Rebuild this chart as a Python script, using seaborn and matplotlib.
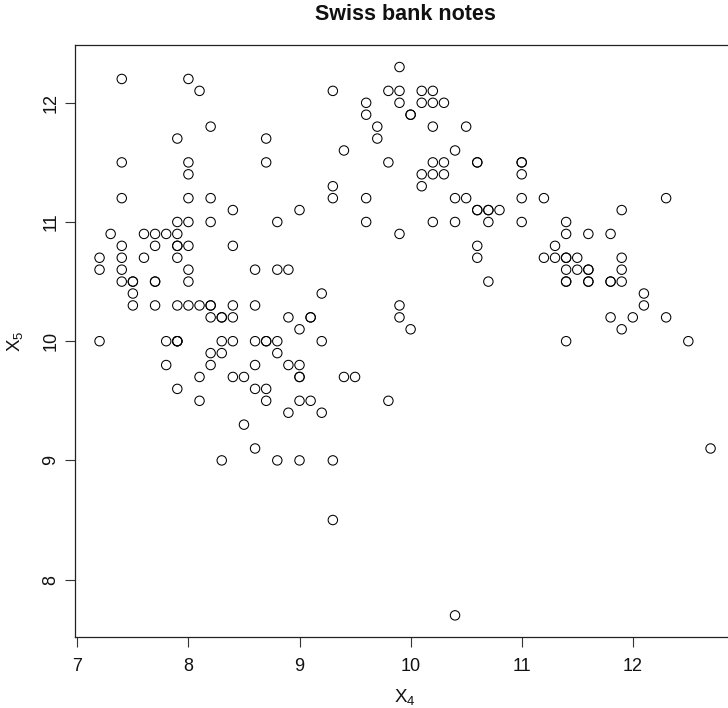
import matplotlib
matplotlib.use("Agg")
import matplotlib.pyplot as plt
import pandas as pd
import seaborn as sns

# Swiss bank notes: bottom margin width (X4) and top margin width (X5), mm
bottom_genuine = [
    9.0, 8.1, 8.7, 7.5, 10.4, 9.0, 7.9, 7.2, 8.2, 9.2,
    7.9, 7.7, 7.9, 7.7, 7.7, 9.3, 8.2, 9.0, 7.4, 8.6,
    8.4, 8.1, 8.4, 8.7, 7.4, 8.0, 8.9, 9.8, 7.4, 8.3,
    7.9, 8.6, 7.7, 8.4, 8.9, 9.4, 8.4, 7.9, 8.5, 8.1,
    8.9, 8.8, 9.3, 9.0, 8.2, 8.3, 8.3, 7.3, 7.9, 7.8,
    7.2, 9.5, 7.8, 7.6, 7.9, 9.2, 9.2, 8.8, 7.9, 8.2,
    8.3, 7.5, 8.0, 8.0, 8.6, 8.8, 7.7, 9.1, 8.6, 8.0,
    8.4, 8.2, 8.7, 7.5, 7.2, 7.6, 8.8, 7.4, 7.9, 7.9,
    8.6, 7.5, 9.0, 7.9, 9.0, 8.9, 8.7, 8.4, 7.4, 8.0,
    8.6, 8.5, 8.2, 7.4, 8.3, 9.0, 9.1, 8.0, 9.1, 7.8,
]
top_genuine = [
    9.7, 9.5, 9.6, 10.4, 7.7, 10.1, 9.6, 10.7, 11.0, 10.0,
    11.7, 10.5, 10.8, 10.9, 10.8, 8.5, 9.8, 9.0, 11.5, 10.0,
    10.0, 10.3, 10.8, 10.0, 10.8, 11.0, 9.8, 9.5, 10.5, 9.0,
    10.7, 9.1, 10.5, 10.3, 10.6, 9.7, 9.7, 10.0, 9.3, 9.7,
    9.4, 9.9, 9.0, 9.8, 10.2, 10.2, 10.2, 10.9, 10.3, 9.8,
    10.0, 9.7, 10.9, 10.9, 10.0, 9.4, 10.4, 9.0, 11.0, 10.3,
    9.9, 10.5, 10.6, 10.8, 10.6, 10.6, 10.3, 9.5, 9.8, 11.2,
    11.1, 10.3, 10.0, 10.5, 10.6, 10.7, 10.0, 10.6, 10.9, 10.0,
    10.3, 10.3, 9.7, 10.8, 11.1, 10.2, 9.5, 10.2, 11.2, 10.5,
    9.6, 9.7, 9.9, 10.7, 10.0, 9.5, 10.2, 10.3, 10.2, 10.0,
]
bottom_counterfeit = [
    7.4, 8.0, 8.1, 8.2, 8.7, 8.7, 8.0, 8.0, 8.2, 8.8,
    9.9,
    9.3, 9.8, 9.9, 10.1, 10.2,
    9.6, 9.9, 10.1, 10.2, 10.3,
    9.6, 10.0, 10.0,
    9.7, 10.2, 10.5,
    9.7,
    9.4, 10.4,
    9.8, 10.2, 10.3, 10.6, 10.6, 11.0, 11.0,
    10.1, 10.2, 10.3, 11.0,
    9.3, 10.1,
    9.3, 9.6, 10.4, 10.5, 11.0, 11.2, 12.3,
    10.6, 10.6, 10.7, 10.7, 10.8, 11.9,
    9.6, 10.2, 10.4, 10.7, 11.0, 11.4,
    9.9, 11.4, 11.6, 11.8,
    10.6, 11.3,
    10.6, 11.2, 11.3, 11.4, 11.4, 11.5, 11.9,
    11.4, 11.5, 11.6, 11.6, 11.9,
    10.7, 11.4, 11.4, 11.6, 11.6, 11.8, 11.8, 11.9,
    12.1,
    9.9, 12.1,
    9.9, 11.8, 12.0, 12.3,
    10.0, 11.9,
    11.4, 12.5,
    12.7,
]
top_counterfeit = [
    12.2, 12.2, 12.1, 11.8, 11.7, 11.5, 11.5, 11.4, 11.2, 11.0,
    12.3,
    12.1, 12.1, 12.1, 12.1, 12.1,
    12.0, 12.0, 12.0, 12.0, 12.0,
    11.9, 11.9, 11.9,
    11.8, 11.8, 11.8,
    11.7,
    11.6, 11.6,
    11.5, 11.5, 11.5, 11.5, 11.5, 11.5, 11.5,
    11.4, 11.4, 11.4, 11.4,
    11.3, 11.3,
    11.2, 11.2, 11.2, 11.2, 11.2, 11.2, 11.2,
    11.1, 11.1, 11.1, 11.1, 11.1, 11.1,
    11.0, 11.0, 11.0, 11.0, 11.0, 11.0,
    10.9, 10.9, 10.9, 10.9,
    10.8, 10.8,
    10.7, 10.7, 10.7, 10.7, 10.7, 10.7, 10.7,
    10.6, 10.6, 10.6, 10.6, 10.6,
    10.5, 10.5, 10.5, 10.5, 10.5, 10.5, 10.5, 10.5,
    10.4,
    10.3, 10.3,
    10.2, 10.2, 10.2, 10.2,
    10.1, 10.1,
    10.0, 10.0,
    9.1,
]

x_ticks = [7, 8, 9, 10, 11, 12]
y_ticks = [8, 9, 10, 11, 12]

notes = pd.DataFrame({
    "X4": bottom_genuine + bottom_counterfeit,
    "X5": top_genuine + top_counterfeit,
})

sns.set_style("white")
plt.rcParams["font.family"] = ["Liberation Sans", "DejaVu Sans"]
plt.rcParams["mathtext.default"] = "regular"

W, H = 728, 708
fig = plt.figure(figsize=(W / 100, H / 100), dpi=100)
left_px, right_px, top_px, bottom_px = 75.1, 735.0, 45.1, 637.3
ax = fig.add_axes([left_px / W, 1 - bottom_px / H,
                   (right_px - left_px) / W, (bottom_px - top_px) / H])

sns.scatterplot(data=notes, x="X4", y="X5", ax=ax, marker="o", s=46,
                facecolor="none", edgecolor="black", linewidth=0.75)

# R-style ranges: data range padded by 4% on each side
xmin, xmax = min(notes["X4"]), max(notes["X4"])
ymin, ymax = min(notes["X5"]), max(notes["X5"])
ax.set_xlim(xmin - 0.04 * (xmax - xmin), xmax + 0.04 * (xmax - xmin))
ax.set_ylim(ymin - 0.04 * (ymax - ymin), ymax + 0.04 * (ymax - ymin))
ax.set_xticks(x_ticks)
ax.set_yticks(y_ticks)

for spine in ax.spines.values():
    spine.set_color("#222222")
    spine.set_linewidth(0.9)

ax.tick_params(bottom=True, left=True, direction="out", length=7.5,
               width=0.8, color="#333333", labelsize=13, labelcolor="#111111")
ax.tick_params(axis="x", pad=7.5)
ax.tick_params(axis="y", pad=4, labelrotation=90)
for lbl in ax.get_yticklabels():
    lbl.set_va("center")

ax.set_xlabel("$X_4$", fontsize=13.5, color="#111111")
ax.set_ylabel("$X_5$", fontsize=13.5, color="#111111")
ax.xaxis.label.set_va("center")
ax.yaxis.label.set_va("center")
ax.xaxis.set_label_coords(0.5, (bottom_px - 697) / (bottom_px - top_px))
ax.yaxis.set_label_coords((15 - left_px) / (right_px - left_px), 0.5)

fig.text((left_px + right_px) / 2 / W, 1 - 14.7 / H, "Swiss bank notes",
         ha="center", va="center", fontsize=15.5, fontweight="bold",
         color="#111111")

fig.savefig("out.png", dpi=100)
